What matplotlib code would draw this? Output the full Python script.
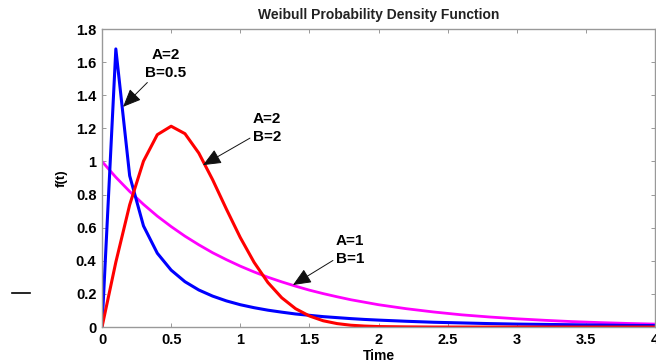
import matplotlib.pyplot as plt
from matplotlib.lines import Line2D

plt.rcParams['font.family'] = ['Liberation Sans', 'DejaVu Sans']

# time samples
t = [0, 0.1, 0.2, 0.3, 0.4, 0.5, 0.6, 0.7, 0.8, 0.9, 1.0,
     1.1, 1.2, 1.3, 1.4, 1.5, 1.6, 1.7, 1.8, 1.9, 2.0,
     2.2, 2.4, 2.6, 2.8, 3.0, 3.2, 3.4, 3.6, 3.8, 4.0]

# A=2, B=0.5 (blue)
f_blue = [0, 1.680, 0.914, 0.611, 0.446, 0.344, 0.274, 0.224, 0.187, 0.158, 0.135,
          0.117, 0.102, 0.090, 0.079, 0.071, 0.063, 0.057, 0.051, 0.046, 0.042,
          0.035, 0.029, 0.025, 0.021, 0.018, 0.016, 0.014, 0.012, 0.010, 0.009]

# A=2, B=2 (red)
f_red = [0, 0.392, 0.738, 1.002, 1.162, 1.213, 1.168, 1.051, 0.890, 0.712, 0.541,
         0.391, 0.269, 0.177, 0.111, 0.067, 0.038, 0.021, 0.011, 0.006, 0.003,
         0.001, 0, 0, 0, 0, 0, 0, 0, 0, 0]

# A=1, B=1 (magenta)
f_mag = [1.0, 0.905, 0.819, 0.741, 0.670, 0.607, 0.549, 0.497, 0.449, 0.407, 0.368,
         0.333, 0.301, 0.273, 0.247, 0.223, 0.202, 0.183, 0.165, 0.150, 0.135,
         0.111, 0.091, 0.074, 0.061, 0.050, 0.041, 0.033, 0.027, 0.022, 0.018]

fig = plt.figure(figsize=(6.56, 3.63), dpi=100)
ax = fig.add_axes([0.1555, 0.099, 0.843, 0.821])

ax.plot(t, f_mag, color='#ff00ff', lw=2)
ax.plot(t, f_blue, color='#0000ff', lw=2.2)
ax.plot(t, f_red, color='#ff0000', lw=2.2)

ax.set_xlim(0, 4)
ax.set_ylim(0, 1.8)
ax.set_xticks([0, 0.5, 1, 1.5, 2, 2.5, 3, 3.5, 4])
ax.set_xticklabels(['0', '0.5', '1', '1.5', '2', '2.5', '3', '3.5', '4'])
ax.set_yticks([0, 0.2, 0.4, 0.6, 0.8, 1, 1.2, 1.4, 1.6, 1.8])
ax.set_yticklabels(['0', '0.2', '0.4', '0.6', '0.8', '1', '1.2', '1.4', '1.6', '1.8'])
ax.tick_params(direction='in', top=True, right=True, length=3, width=0.6,
               color='#888888', labelsize=10.5, pad=4)
for lab in ax.get_xticklabels() + ax.get_yticklabels():
    lab.set_fontweight('bold')
for s in ax.spines.values():
    s.set_color('#999999')
    s.set_linewidth(1)

ax.set_title('Weibull Probability Density Function', fontsize=10, fontweight='bold',
             color='#222222', pad=7)
ax.set_xlabel('Time', fontsize=10, fontweight='bold', labelpad=2)
ax.set_ylabel('f(t)', fontsize=9.5, fontweight='bold', labelpad=6)

arrow = dict(arrowstyle='-|>,head_length=0.7,head_width=0.3', color='#111111', lw=0.7,
             mutation_scale=16, shrinkA=0, shrinkB=0)
ax.annotate('A=2\nB=0.5', xy=(0.152, 1.33), xytext=(0.463, 1.59),
            ha='center', va='center', fontsize=11, fontweight='bold',
            linespacing=1.35, arrowprops=arrow)
ax.annotate('A=2\nB=2', xy=(0.73, 0.978), xytext=(1.193, 1.20),
            ha='center', va='center', fontsize=11, fontweight='bold',
            linespacing=1.35, arrowprops=arrow)
ax.annotate('A=1\nB=1', xy=(1.381, 0.254), xytext=(1.793, 0.465),
            ha='center', va='center', fontsize=11, fontweight='bold',
            linespacing=1.35, arrowprops=arrow)

# small stray dash at the left edge
fig.add_artist(Line2D([12 / 656, 30 / 656], [1 - 293 / 363, 1 - 293 / 363],
                      color='black', lw=1.2))

fig.savefig('out.png', dpi=100)
